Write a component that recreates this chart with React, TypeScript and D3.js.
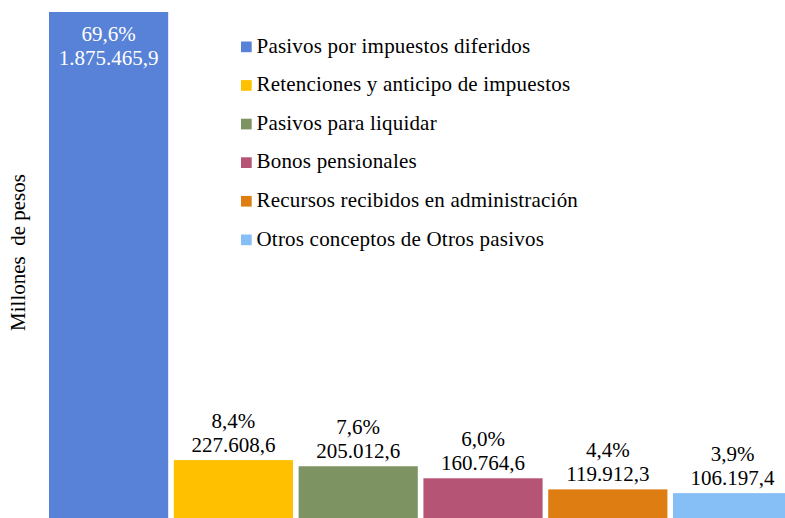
import React from "react";
import * as d3 from "d3";

const categories = [
  "Pasivos por impuestos diferidos",
  "Retenciones y anticipo de impuestos",
  "Pasivos para liquidar",
  "Bonos pensionales",
  "Recursos recibidos en administración",
  "Otros conceptos de Otros pasivos",
];
const values = [1875465.9, 227608.6, 205012.6, 160764.6, 119912.3, 106197.4];
const valueLabels = ["1.875.465,9", "227.608,6", "205.012,6", "160.764,6", "119.912,3", "106.197,4"];
const percentLabels = ["69,6%", "8,4%", "7,6%", "6,0%", "4,4%", "3,9%"];
const colors = ["#5882d7", "#ffc000", "#7d9462", "#b55474", "#de7e12", "#86bff6"];
const yTitle = "Millones  de pesos";

const W = 785;
const H = 518;
const FONT = '"Liberation Serif", "Times New Roman", Times, serif';

export default function App() {
  const x = d3
    .scaleBand<string>()
    .domain(categories)
    .range([49, 792.2])
    .paddingInner(0.045)
    .paddingOuter(0);
  const y = d3.scaleLinear().domain([0, d3.max(values) as number]).range([522, 12]);

  return (
    <div style={{ position: "fixed", left: 0, top: 0 }}>
      <svg width={W} height={H} style={{ display: "block", background: "#fff", fontFamily: FONT }}>
        {categories.map((c, i) => {
          const x0 = x(c) as number;
          const top = y(values[i]);
          const cx = x0 + x.bandwidth() / 2;
          const inside = i === 0;
          return (
            <g key={c}>
              <rect x={x0} y={top} width={x.bandwidth()} height={y(0) - top} fill={colors[i]} />
              <text
                x={cx}
                y={inside ? top + 29 : top - 32.5}
                textAnchor="middle"
                style={{ fontFamily: FONT, fontSize: 21 }}
                fill={inside ? "#ffffff" : "#000000"}
              >
                {percentLabels[i]}
              </text>
              <text
                x={cx}
                y={inside ? top + 53 : top - 8.5}
                textAnchor="middle"
                style={{ fontFamily: FONT, fontSize: 21 }}
                fill={inside ? "#ffffff" : "#000000"}
              >
                {valueLabels[i]}
              </text>
            </g>
          );
        })}
        {categories.map((c, i) => (
          <g key={"lg" + c} transform={`translate(241, ${52.5 + i * 38.6})`}>
            <rect x={0} y={-11} width={10.7} height={10.7} fill={colors[i]} />
            <text x={15.5} y={0} style={{ fontFamily: FONT, fontSize: 21, letterSpacing: 0.2 }} fill="#000">
              {c}
            </text>
          </g>
        ))}
        <text
          transform="translate(25, 252.5) rotate(-90)"
          textAnchor="middle"
          fill="#000"
          style={{ whiteSpace: "pre", fontFamily: FONT, fontSize: 21 }}
        >
          {yTitle}
        </text>
      </svg>
    </div>
  );
}
